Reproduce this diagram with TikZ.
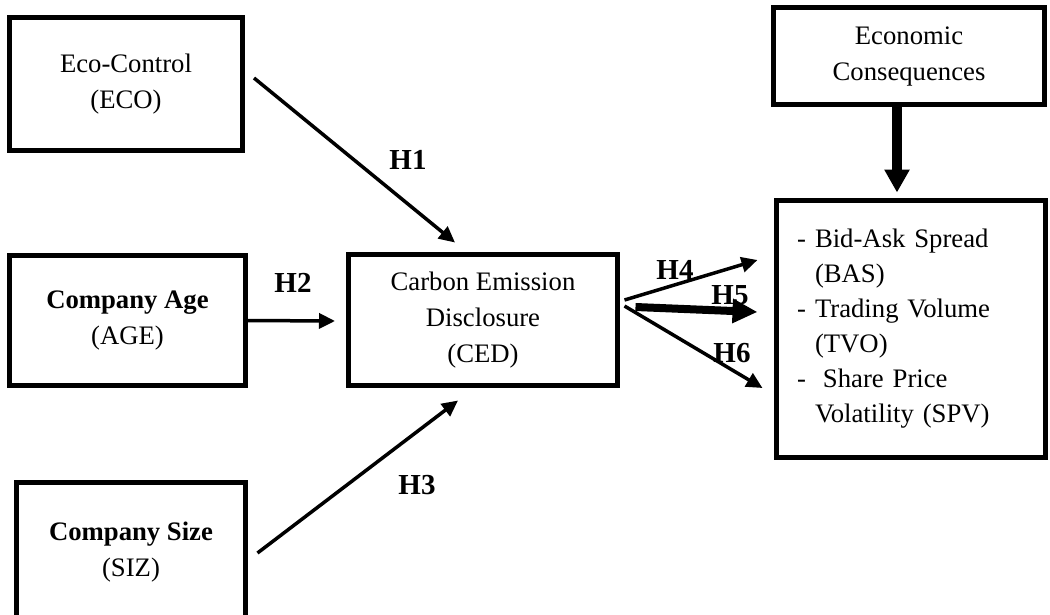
\documentclass[tikz,border=0pt]{standalone}
\usepackage{fontspec}
\setmainfont{Liberation Serif}
\usetikzlibrary{arrows.meta,calc}
\begin{document}
\begin{tikzpicture}[x=1pt,y=-1pt,
  box/.style={draw, line width=5pt, rectangle, align=center, inner sep=0pt,
    font=\fontsize{26.7}{36}\selectfont},
  conn/.style={line width=3.5pt, -{Triangle[length=16pt,width=15pt]}},
  thickconn/.style={line width=8pt, -{Triangle[length=25pt,width=23pt]}},
  hlab/.style={font=\fontsize{29}{30}\selectfont\bfseries, inner sep=0pt}]
\useasboundingbox (0,0) rectangle (1050,614);
% boxes
\node[box, minimum width=233pt, minimum height=133pt] (eco) at (126,84)
  {\fontsize{26.7}{38}\selectfont Eco-Control\\(ECO)};
\node[box, minimum width=236pt, minimum height=130pt] (age) at (127.5,320.5)
  {\textbf{Company Age}\\(AGE)};
\node[box, minimum width=229pt, minimum height=140pt] (siz) at (131,552)
  {\textbf{Company Size}\\(SIZ)};
\node[box, minimum width=269pt, minimum height=131pt] (ced) at (483,320)
  {Carbon Emission\\Disclosure\\(CED)};
\node[box, minimum width=271pt, minimum height=97pt] (econ) at (909,56)
  {\fontsize{26.7}{34}\selectfont Economic\\Consequences};
\node[box, minimum width=269pt, minimum height=257pt, text width=228pt, align=left,
  font=\fontsize{26.7}{35}\selectfont] (out) at (911,329)
  {\makebox[18pt][l]{-}Bid-Ask Spread\\
   \hspace*{18pt}(BAS)\\
   \makebox[18pt][l]{-}Trading Volume\\
   \hspace*{18pt}(TVO)\\
   \makebox[26pt][l]{-}Share Price\\
   \hspace*{18pt}Volatility (SPV)};
% connectors
\draw[conn] ($(eco.east)+(9,-6)$) -- ($(ced.north)+(-28,-9.5)$);
\draw[conn] (age.east) -- ($(ced.west)+(-11,1)$);
\draw[conn] ($(siz.east)+(9.5,1)$) -- ($(ced.south)+(-25,12.5)$);
\draw[conn] ($(ced.east)+(4.5,-20)$) -- ($(out.west)+(-16.5,-69)$);
\draw[thickconn] ($(ced.east)+(15.5,-13)$) -- ($(out.west)+(-16.5,-17)$);
\draw[conn] ($(ced.east)+(4.5,-14)$) -- ($(out.west)+(-11.5,59)$);
\draw[line width=10pt, -{Triangle[length=23pt,width=24pt]}] ($(econ.south)+(-12,0)$) -- ($(out.north)+(-14,-5.5)$);
% labels
\node[hlab] (h1) at (408,160) {H1};
\node[hlab] (h2) at (293,283) {H2};
\node[hlab] (h3) at (417,485) {H3};
\node[hlab] (h4) at (675,270) {H4};
\node[hlab] (h5) at (730,295) {H5};
\node[hlab] (h6) at (732,353) {H6};
\end{tikzpicture}
\end{document}
